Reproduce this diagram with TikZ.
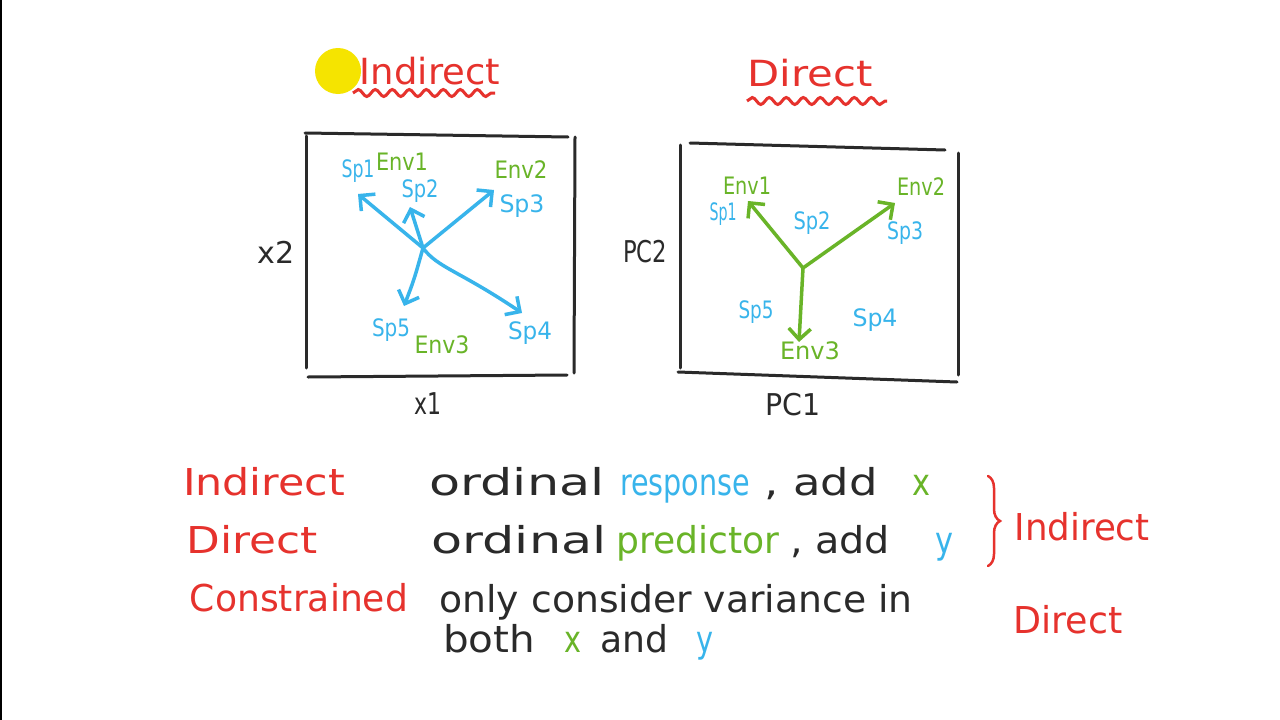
\documentclass[tikz,border=0pt]{standalone}
\usepackage{fontspec}
\setmainfont{DejaVu Sans}
\usetikzlibrary{arrows.meta,decorations.pathmorphing,decorations.pathreplacing}
\definecolor{ink}{HTML}{2A2A2A}
\definecolor{cred}{HTML}{E6322D}
\definecolor{cblue}{HTML}{38B4EB}
\definecolor{cgreen}{HTML}{69B428}
\definecolor{cyel}{HTML}{F5E400}
\newcommand\hwtext[2]{\resizebox{#1}{\height}{#2}}
\begin{document}
\begin{tikzpicture}[x=1pt,y=-1pt,
  every node/.style={inner sep=0pt,outer sep=0pt},
  lbl/.style={font=\fontsize{24}{24}\selectfont},
  sp/.style={lbl,text=cblue},
  env/.style={lbl,text=cgreen},
  axis/.style={font=\fontsize{30}{30}\selectfont,text=ink},
  big/.style={font=\fontsize{37}{37}\selectfont,anchor=base},
  title/.style={font=\fontsize{36}{36}\selectfont,anchor=base,text=cred},
  boxline/.style={draw=ink,line width=3pt,line cap=round},
  arr/.style={line width=3.5pt,line cap=round,line join=round,-{Straight Barb[length=11pt,width=22pt]}},
  wavy/.style={draw=cred,line width=3pt,decorate,decoration={snake,amplitude=3.5pt,segment length=17pt}}
]
\useasboundingbox (0,0) rectangle (1280,720);
\fill[white] (0,0) rectangle (1280,720);
\draw[black,line width=2pt] (1,0) -- (1,720);

% titles
\fill[cyel] (338,71) circle (23);
\node[title] (tind) at (430,84) {\hwtext{140pt}{Indirect}};
\draw[wavy] (353,93) -- (495,93);
\node[title] (tdir) at (810,86) {\hwtext{125pt}{Direct}};
\draw[wavy] (747,101) -- (887,101);

% left box
\draw[boxline] (305,133) -- (568,137);
\draw[boxline] (306,136) -- (306,368);
\draw[boxline] (575,137) -- (574,373);
\draw[boxline] (308,377) -- (567,375);
\node[axis] (x2) at (276,252) {\hwtext{37pt}{x2}};
\node[axis] (x1) at (428,404) {\hwtext{27pt}{x1}};

\coordinate (lc) at (423,248);
\coordinate (l1) at (358,194);
\coordinate (l2) at (410,207);
\coordinate (l3) at (494,190);
\coordinate (l5) at (404,306);
\coordinate (l4) at (522,313);
\begin{scope}[cblue]
\draw[arr] (lc) -- (l1);
\draw[arr] (lc) -- (l2);
\draw[arr] (lc) -- (l3);
\draw[arr] (lc) .. controls (414,280) .. (l5);
\draw[arr] (lc) .. controls (438,268) and (458,270) .. (l4);
\end{scope}
\node[sp]  (lsp1) at (358,171) {\hwtext{33pt}{Sp1}};
\node[env] (lenv1) at (402,162) {\hwtext{52pt}{Env1}};
\node[sp]  (lsp2) at (420,191) {\hwtext{37pt}{Sp2}};
\node[env] (lenv2) at (521,170) {\hwtext{53pt}{Env2}};
\node[sp]  (lsp3) at (522,206) {\hwtext{45pt}{Sp3}};
\node[sp]  (lsp5) at (391,330) {\hwtext{38pt}{Sp5}};
\node[env] (lenv3) at (442,345) {\hwtext{55pt}{Env3}};
\node[sp]  (lsp4) at (530,333) {\hwtext{44pt}{Sp4}};

% right box
\draw[boxline] (690,143) -- (945,150);
\draw[boxline] (680,145) -- (680,368);
\draw[boxline] (958,153) -- (958,375);
\draw[boxline] (678,372) -- (957,382);
\node[axis] (pc2) at (645,252) {\hwtext{44pt}{PC2}};
\node[axis] (pc1) at (793,405) {\hwtext{55pt}{PC1}};

\coordinate (rc) at (803,268);
\coordinate (r1) at (748,201);
\coordinate (r2) at (895,203);
\coordinate (r3) at (799,342);
\begin{scope}[cgreen]
\draw[arr] (rc) -- (r1);
\draw[arr] (rc) -- (r2);
\draw[arr] (rc) -- (r3);
\end{scope}
\node[env] (renv1) at (747,186) {\hwtext{48pt}{Env1}};
\node[sp]  (rsp1) at (723,214) {\hwtext{27pt}{Sp1}};
\node[sp]  (rsp2) at (812,223) {\hwtext{37pt}{Sp2}};
\node[env] (renv2) at (921,187) {\hwtext{48pt}{Env2}};
\node[sp]  (rsp3) at (905,233) {\hwtext{36pt}{Sp3}};
\node[sp]  (rsp5) at (756,312) {\hwtext{35pt}{Sp5}};
\node[sp]  (rsp4) at (875,320) {\hwtext{45pt}{Sp4}};
\node[env] (renv3) at (810,351) {\hwtext{60pt}{Env3}};

% bottom text
\node[big,text=cred] (bind) at (264,495) {\hwtext{162pt}{Indirect}};
\node[big,text=cred] (bdir) at (252,553) {\hwtext{131pt}{Direct}};
\node[big,text=cred] (bcon) at (299,611) {\hwtext{218pt}{Constrained}};

\node[big,text=ink] (o1) at (517,495) {\hwtext{175pt}{ordinal}};
\node[big,text=cblue] (resp) at (685,495) {\hwtext{130pt}{response}};
\node[big,text=ink] (add1) at (821,495) {\hwtext{113pt}{, add}};
\node[big,text=cgreen] (xx1) at (921,495) {\hwtext{18pt}{x}};

\node[big,text=ink] (o2) at (519,553) {\hwtext{175pt}{ordinal}};
\node[big,text=cgreen] (pred) at (698,553) {\hwtext{163pt}{predictor}};
\node[big,text=ink] (add2) at (840,553) {\hwtext{100pt}{, add}};
\node[big,text=cblue] (yy1) at (944,553) {\hwtext{18pt}{y}};

\node[big,text=ink] (only) at (676,612) {\hwtext{473pt}{only consider variance in}};
\node[big,text=ink] (both) at (489,652) {\hwtext{92pt}{both}};
\node[big,text=cgreen] (xx2) at (573,652) {\hwtext{17pt}{x}};
\node[big,text=ink] (and) at (634,652) {\hwtext{68pt}{and}};
\node[big,text=cblue] (yy2) at (705,652) {\hwtext{17pt}{y}};

\coordinate (btop) at (988,476);
\coordinate (bbot) at (988,566);
\draw[cred,line width=2.5pt,line cap=round,decorate,decoration={brace,amplitude=12pt}] (btop) -- (bbot);
\node[big,text=cred] (rind) at (1082,540) {\hwtext{135pt}{Indirect}};
\node[big,text=cred] (rdir) at (1068,633) {\hwtext{109pt}{Direct}};
\end{tikzpicture}
\end{document}
